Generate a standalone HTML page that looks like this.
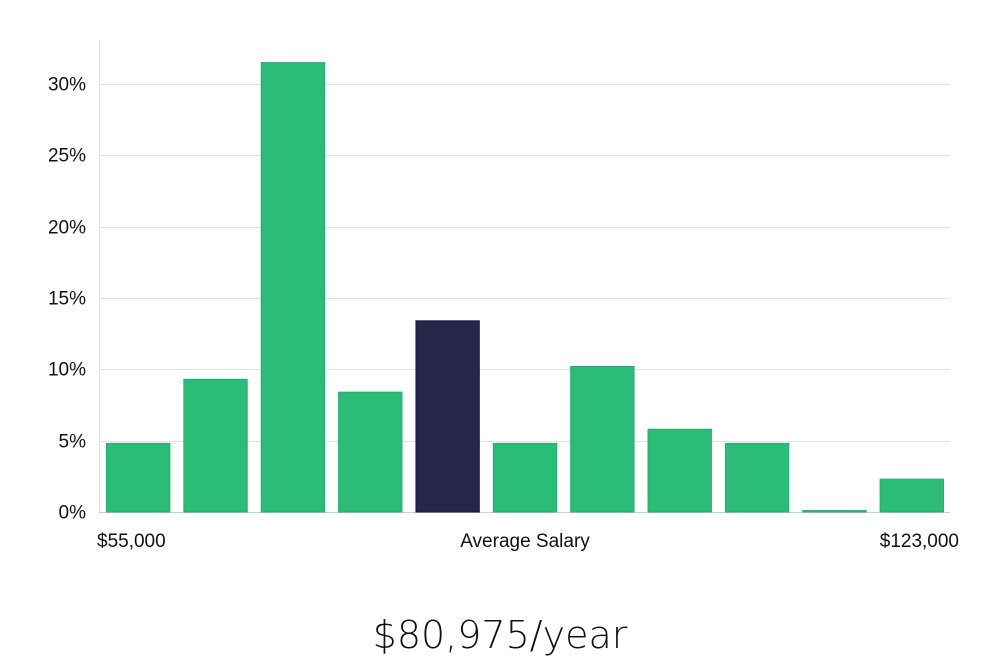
<!DOCTYPE html>
<html><head><meta charset="utf-8"><style>
body{margin:0;background:#fff;width:1000px;height:660px;overflow:hidden;font-family:"Liberation Sans","DejaVu Sans",sans-serif}
</style></head><body>
<svg id="chart" width="1000" height="660" xmlns="http://www.w3.org/2000/svg">
<g id="grid"></g>
<g id="bars"></g>
<g id="yticks"></g>
<line x1="99.5" y1="40" x2="99.5" y2="512" stroke="#e2e2e2"/>
<text x="97" y="547" font-size="19" fill="#111">$55,000</text>
<text x="525" y="547" font-size="19" fill="#111" text-anchor="middle">Average Salary</text>
<text x="959" y="547" font-size="19" fill="#111" text-anchor="end">$123,000</text>
<text x="500" y="648" font-size="38" fill="#111" text-anchor="middle" font-family="DejaVu Sans, sans-serif" font-weight="300">$80,975/year</text>
</svg>
<script>
const categories=["b1","b2","b3","b4","b5","b6","b7","b8","b9","b10","b11"];
const values=[4.8,9.3,31.5,8.4,13.4,4.8,10.2,5.8,4.8,0.1,2.3];
const highlightIndex=4;
const tickValues=[0,5,10,15,20,25,30];
const tickLabels=["0%","5%","10%","15%","20%","25%","30%"];
const NS="http://www.w3.org/2000/svg";
const x0=99,x1=950,y0=512,yTop=84;
function yScale(v){return y0-(v/30)*(y0-yTop);}
const step=(x1-x0)/categories.length;
function xScale(i){return x0+i*step+7.5;}
const grid=document.getElementById('grid'),yt=document.getElementById('yticks'),bars=document.getElementById('bars');
tickValues.forEach((t,i)=>{
 const y=Math.round(yScale(t))+0.5;
 const l=document.createElementNS(NS,'line');
 
 
 l.setAttribute('x1',x0);l.setAttribute('x2',x1);l.setAttribute('y1',y);l.setAttribute('y2',y);
 l.setAttribute('stroke',t===0?'#cfcfcf':'#e2e2e2');
 grid.appendChild(l);
 const tx=document.createElementNS(NS,'text');
 
 
 tx.setAttribute('x',86);tx.setAttribute('y',y+6);tx.setAttribute('text-anchor','end');
 tx.setAttribute('font-size','19');tx.setAttribute('fill','#111');
 tx.textContent=tickLabels[i];
 yt.appendChild(tx);
});
values.forEach((v,i)=>{
 const r=document.createElementNS(NS,'rect');
 
 
 const y=yScale(v);
 r.setAttribute('x',xScale(i));r.setAttribute('width',step-14);
 r.setAttribute('y',y);r.setAttribute('height',Math.max(1,y0-y));
 const hi=i===highlightIndex;
 r.setAttribute('fill',hi?'#28254a':'#2bbd77');
 r.setAttribute('stroke',hi?'#1a1838':'#22b06c');
 r.setAttribute('stroke-width','1');
 bars.appendChild(r);
});
</script>
</body></html>
